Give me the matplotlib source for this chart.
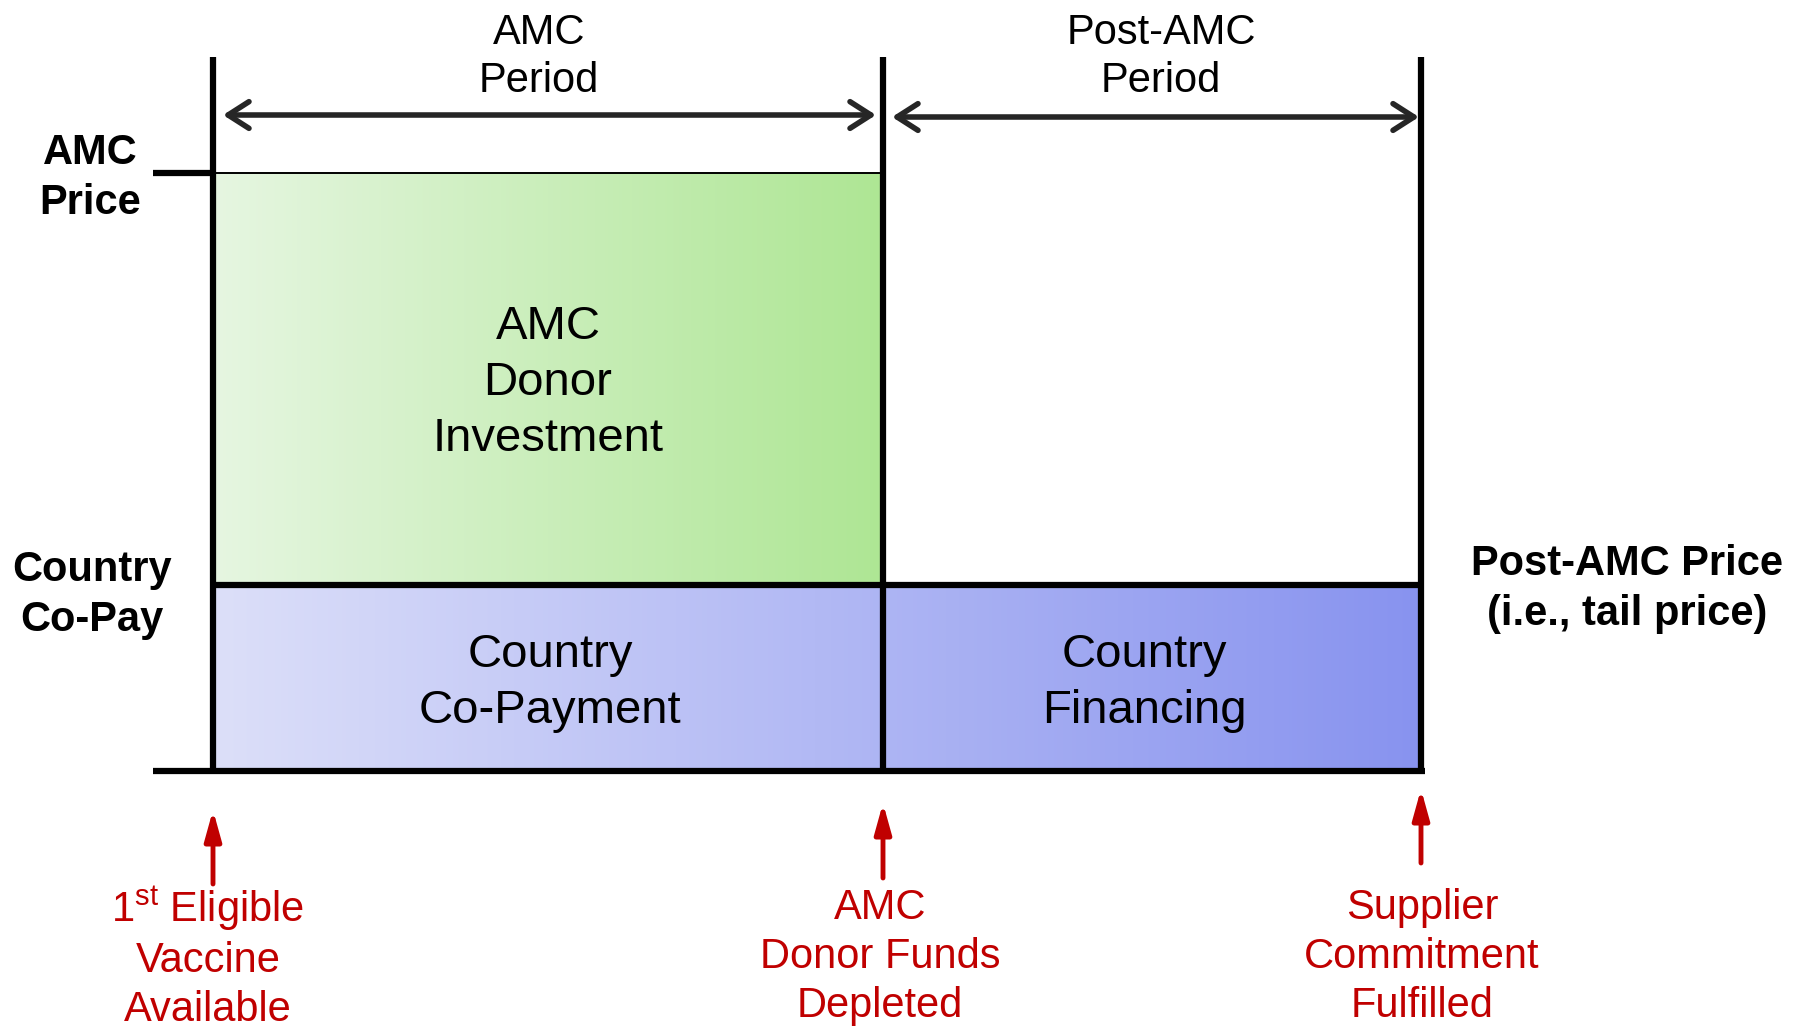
import numpy as np
import matplotlib.pyplot as plt
from matplotlib.colors import LinearSegmentedColormap

plt.rcParams['font.family'] = ['Liberation Sans', 'DejaVu Sans']
plt.rcParams['mathtext.fontset'] = 'custom'
plt.rcParams['mathtext.rm'] = 'Liberation Sans'

# Milestones along the time axis (pixel positions of the diagram)
milestones = [213, 883, 1421]
milestone_labels = ["1$^{\\rm st}$ Eligible\nVaccine\nAvailable",
                    "AMC\nDonor Funds\nDepleted",
                    "Supplier\nCommitment\nFulfilled"]

# Price levels (top of band, y in pixels, downwards)
amc_price = 173
copay_price = 585
base = 771

period_labels = ["AMC\nPeriod", "Post-AMC\nPeriod"]
box_labels = ["AMC\nDonor\nInvestment", "Country\nCo-Payment", "Country\nFinancing"]

# Figure in pixel coordinates
fig = plt.figure(figsize=(17.96, 10.28), dpi=100)
ax = fig.add_axes([0, 0, 1, 1])
ax.set_xlim(0, 1796)
ax.set_ylim(1028, 0)
ax.axis('off')

x0, x1, x2 = milestones

# Gradients
green = LinearSegmentedColormap.from_list('g', ['#E6F6E1', '#AEE694'])
blue = LinearSegmentedColormap.from_list('b', ['#DCDFF9', '#8893EF'])
grad = np.linspace(0, 1, 256).reshape(1, -1)
ax.imshow(grad, cmap=green, extent=[x0, x1, copay_price, amc_price], aspect='auto', zorder=1)
# blue is one gradient spanning both boxes
f = (x1 - x0) / (x2 - x0)
ax.imshow(np.linspace(0, f, 256).reshape(1, -1), cmap=blue, vmin=0, vmax=1,
          extent=[x0, x1, base, copay_price], aspect='auto', zorder=1)
ax.imshow(np.linspace(f, 1, 256).reshape(1, -1), cmap=blue, vmin=0, vmax=1,
          extent=[x1, x2, base, copay_price], aspect='auto', zorder=1)

lw = 4.5
# Vertical period boundaries
for x in milestones:
    ax.plot([x, x], [57, base], color='black', lw=lw, solid_capstyle='butt', zorder=3)
# Horizontal lines
ax.plot([153, x2 + 4], [base, base], color='black', lw=lw, solid_capstyle='butt', zorder=3)
ax.plot([153, x0], [amc_price, amc_price], color='black', lw=lw, solid_capstyle='butt', zorder=3)
ax.plot([x0, x1], [amc_price, amc_price], color='black', lw=1.4, zorder=3)
ax.plot([x0, x2], [copay_price, copay_price], color='black', lw=lw, solid_capstyle='butt', zorder=3)

# Period arrows
arr = dict(arrowstyle='<->,head_length=0.5,head_width=0.32', lw=4, color='#262626',
           mutation_scale=30, shrinkA=0, shrinkB=0)
ax.annotate('', xy=(x0 + 10, 115), xytext=(x1 - 7, 115), arrowprops=arr)
ax.annotate('', xy=(x1 + 9, 117), xytext=(x2 - 2, 117), arrowprops=arr)

# Period labels
ax.text(539, 57, period_labels[0], ha='center', va='center', fontsize=30, linespacing=1.27)
ax.text((x1 + x2) / 2 + 9, 57, period_labels[1], ha='center', va='center', fontsize=30,
        linespacing=1.27)

# Box labels
ax.text(548, 383, box_labels[0], ha='center', va='center', fontsize=34, linespacing=1.34, zorder=4)
ax.text(550, 683, box_labels[1], ha='center', va='center', fontsize=34, linespacing=1.34, zorder=4)
ax.text(1144, 683, box_labels[2], ha='center', va='center', fontsize=34, linespacing=1.34, zorder=4)

# Price labels
ax.text(90, 178, "AMC\nPrice", ha='center', va='center', fontsize=30, fontweight='bold',
        linespacing=1.33)
ax.text(92, 595, "Country\nCo-Pay", ha='center', va='center', fontsize=30, fontweight='bold',
        linespacing=1.33)
ax.text(1627, 589, "Post-AMC Price\n(i.e., tail price)", ha='center', va='center', fontsize=30,
        fontweight='bold', linespacing=1.35)

# Milestone arrows and labels
red = '#C00000'
arrow_tops = [810, 803, 789]
arrow_tails = [884, 878, 863]
label_x = [208, 880, 1422]
for x, top, tail, lx, lab in zip(milestones, arrow_tops, arrow_tails, label_x, milestone_labels):
    ax.annotate('', xy=(x, top), xytext=(x, tail),
                arrowprops=dict(arrowstyle='-|>,head_length=0.9,head_width=0.25', lw=3.5,
                                color=red, mutation_scale=20, shrinkA=0, shrinkB=0))
    ax.text(lx, 957, lab, ha='center', va='center', fontsize=30, color=red, linespacing=1.28)

fig.savefig('out.png', dpi=100)
